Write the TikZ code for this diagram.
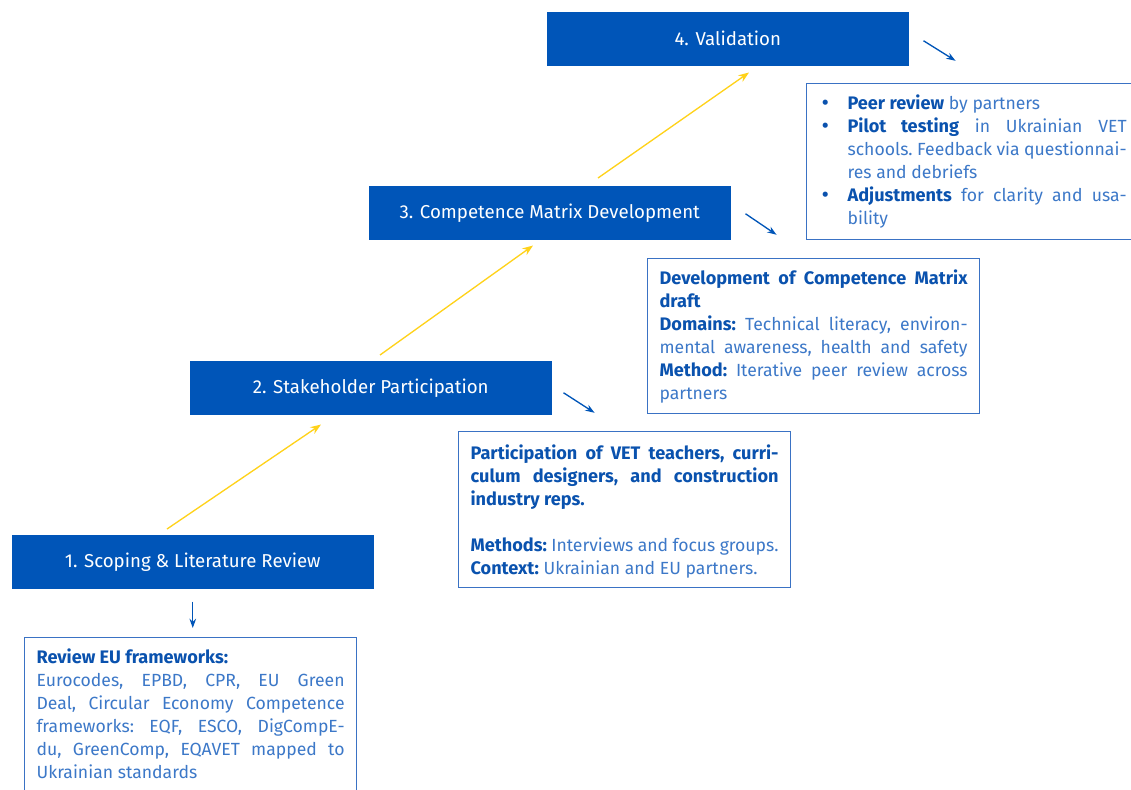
\documentclass[tikz,border=0pt]{standalone}
\usepackage{fontspec}
\setmainfont{Fira Sans}
\usetikzlibrary{arrows.meta}
\definecolor{eublue}{HTML}{0055B8}
\definecolor{bldblue}{HTML}{0A52AE}
\definecolor{txtblue}{HTML}{3C78C8}
\definecolor{edgeblue}{HTML}{3A72C4}
\definecolor{yel}{HTML}{FFD21A}
\newlength{\boxtw}\setlength{\boxtw}{231pt}
\newlength{\bulind}\setlength{\bulind}{21.75pt}
\newcommand{\bodyfont}{\fontsize{13.2}{17.25}\selectfont\frenchspacing}
\newcommand{\jl}[1]{\noindent\makebox[\linewidth][s]{#1}\par}
\newcommand{\pl}[1]{\noindent #1\par}
\newcommand{\bb}[1]{\textbf{\color{bldblue}\fontsize{13.6}{17.25}\selectfont #1}}
\newcommand{\fs}[1]{\rule{0pt}{#1}}
\newcommand{\bul}{\makebox[\bulind][l]{\color{bldblue}\hspace{2.2pt}\smash{\raisebox{-0.4pt}{\scalebox{1.3}{\textbullet}}}}}
\newcommand{\bjl}[1]{\noindent\bul\makebox[\dimexpr\linewidth-\bulind][s]{#1}\par}
\newcommand{\ijl}[1]{\noindent\hspace*{\bulind}\makebox[\dimexpr\linewidth-\bulind][s]{#1}\par}
\newcommand{\bpl}[1]{\noindent\hspace*{\bulind}#1\par}
\begin{document}
\begin{tikzpicture}[x=0.75pt,y=-0.75pt,
  stage/.style={fill=eublue, draw=eublue, text=white, anchor=north west,
    minimum width=270.75pt, minimum height=39.75pt, inner sep=0pt,
    font=\fontsize{14}{16}\selectfont},
  info/.style={draw=edgeblue, line width=0.9pt, fill=white, anchor=north west,
    inner xsep=9pt, inner ysep=0pt, text=txtblue, font=\bodyfont},
  up/.style={draw=yel, line width=1pt, -{Stealth[length=8pt,width=6pt]}},
  down/.style={draw=eublue, line width=1pt, -{Stealth[length=7pt,width=5pt]}}]
\useasboundingbox (0,0) rectangle (1131,789);
% stages
\node[stage] (s1) at (12,535) {1. Scoping \& Literature Review};
\node[stage] (s2) at (190,361) {2. Stakeholder Participation};
\node[stage] (s3) at (369,186) {3. Competence Matrix Development};
\node[stage] (s4) at (547,12) {4. Validation};
% info boxes
\node[info] (d1) at (24,637) {\begin{minipage}[c][150pt][t]{\boxtw}
\pl{\fs{19.5pt}\bb{Review EU frameworks:}}
\jl{Eurocodes, EPBD, CPR, EU Green}
\jl{Deal, Circular Economy Competence}
\jl{frameworks: EQF, ESCO, DigCompE-}
\jl{du, GreenComp, EQAVET mapped to}
\pl{Ukrainian standards}
\end{minipage}};
\node[info] (d2) at (458,431) {\begin{minipage}[c][117pt][t]{\boxtw}
\jl{\fs{21pt}\bb{Participation of VET teachers, curri-}}
\jl{\bb{culum designers, and construction}}
\pl{\bb{industry reps.}}
\pl{\strut}
\pl{\bb{Methods:} Interviews and focus groups.}
\pl{\bb{Context:} Ukrainian and EU partners.}
\end{minipage}};
\node[info] (d3) at (647,258) {\begin{minipage}[c][116.25pt][t]{\boxtw}
\jl{\fs{19.75pt}\bb{Development of Competence Matrix}}
\pl{\bb{draft}}
\jl{\bb{Domains:} Technical literacy, environ-}
\jl{mental awareness, health and safety}
\jl{\bb{Method:} Iterative peer review across}
\pl{partners}
\end{minipage}};
\node[info] (d4) at (806,83) {\begin{minipage}[c][117pt][t]{\boxtw}
\pl{\fs{19.5pt}\bul\bb{Peer review} by partners}
\bjl{\bb{Pilot testing} in Ukrainian VET}
\ijl{schools. Feedback via questionnai-}
\bpl{res and debriefs}
\bjl{\bb{Adjustments} for clarity and usa-}
\bpl{bility}
\end{minipage}};
% progression arrows
\draw[up] ([xshift=116.25pt,yshift=4.5pt]s1.north west) -- ([xshift=98.25pt,yshift=-7.5pt]s2.south west);
\draw[up] ([xshift=142.5pt,yshift=4.5pt]s2.north west) -- ([xshift=123pt,yshift=-4.5pt]s3.south west);
\draw[up] ([xshift=171.75pt,yshift=6pt]s3.north west) -- ([xshift=151.5pt,yshift=-5.25pt]s4.south west);
% detail arrows
\draw[down] ([yshift=-9.75pt]s1.south) -- ([yshift=6.75pt]d1.north -| s1.south);
\draw[down] ([xshift=9pt,yshift=-3.75pt]s2.east) -- ([xshift=32.25pt,yshift=-18.75pt]s2.east);
\draw[down] ([xshift=11.25pt,yshift=-0.75pt]s3.east) -- ([xshift=34.5pt,yshift=-16.5pt]s3.east);
\draw[down] ([xshift=11.25pt,yshift=-1.5pt]s4.east) -- ([xshift=35.25pt,yshift=-16.5pt]s4.east);
\end{tikzpicture}
\end{document}
